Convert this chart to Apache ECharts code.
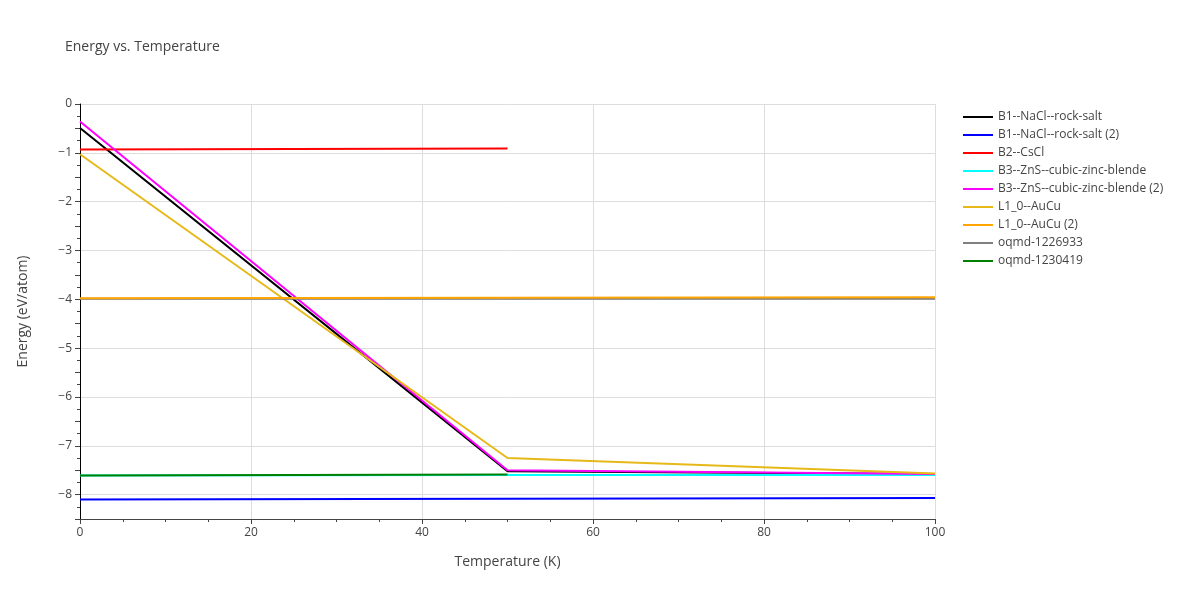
<!DOCTYPE html>
<html>
<head>
<meta charset="UTF-8">
<title>Energy vs. Temperature</title>
<style>
html, body { margin: 0; padding: 0; width: 100%; height: 100%; background: #fff; }
#chart { width: 1200px; height: 600px; }
</style>
</head>
<body>
<div id="chart"></div>
<script src="https://cdn.jsdelivr.net/npm/echarts@6/dist/echarts.min.js"></script>
<script>
var seriesNames = ['B1--NaCl--rock-salt', 'B1--NaCl--rock-salt (2)', 'B2--CsCl',
    'B3--ZnS--cubic-zinc-blende', 'B3--ZnS--cubic-zinc-blende (2)', 'L1_0--AuCu',
    'L1_0--AuCu (2)', 'oqmd-1226933', 'oqmd-1230419'];
var seriesColors = ['#000000', '#0000ff', '#ff0000', '#00ffff', '#ff00ff', '#e6b919',
    '#ffa500', '#808080', '#008000'];

var tempsB1 = [0, 50, 100];
var energyB1 = [-0.49, -7.52, -7.58];
var tempsB1b = [0, 100];
var energyB1b = [-8.1, -8.07];
var tempsB2 = [0, 50];
var energyB2 = [-0.93, -0.91];
var tempsB3 = [0, 50, 100];
var energyB3 = [-7.61, -7.6, -7.6];
var tempsB3b = [0, 50, 100];
var energyB3b = [-0.36, -7.5, -7.58];
var tempsL10 = [0, 50, 100];
var energyL10 = [-1.03, -7.25, -7.57];
var tempsL10b = [0, 100];
var energyL10b = [-3.98, -3.96];
var tempsOq1 = [0, 100];
var energyOq1 = [-3.99, -3.99];
var tempsOq2 = [0, 50];
var energyOq2 = [-7.61, -7.59];

var allTemps = [tempsB1, tempsB1b, tempsB2, tempsB3, tempsB3b, tempsL10, tempsL10b, tempsOq1, tempsOq2];
var allEnergy = [energyB1, energyB1b, energyB2, energyB3, energyB3b, energyL10, energyL10b, energyOq1, energyOq2];
// draw order: grey under orange, green over cyan
var drawOrder = [0, 1, 2, 3, 4, 5, 7, 6, 8];

var chart = echarts.init(document.getElementById('chart'));

var series = drawOrder.map(function (i, n) {
    return {
        name: seriesNames[i],
        type: 'line',
        data: allTemps[i].map(function (t, k) { return [t, allEnergy[i][k]]; }),
        symbol: 'none',
        lineStyle: { width: 2, color: seriesColors[i] },
        itemStyle: { color: seriesColors[i] },
        z: 2 + n
    };
});

var option = {
    animation: false,
    title: {
        text: 'Energy vs. Temperature',
        left: 60, top: 35,
        textStyle: { fontFamily: 'Open Sans', fontSize: 14, fontWeight: 'normal', color: '#444' }
    },
    legend: {
        orient: 'vertical',
        left: 958, top: 106,
        itemWidth: 30, itemHeight: 2, itemGap: 6,
        icon: 'rect',
        data: seriesNames,
        textStyle: { fontFamily: 'Open Sans', fontSize: 12, color: '#444' }
    },
    grid: { left: 80, right: 265, top: 104, bottom: 81 },
    xAxis: {
        type: 'value',
        min: 0, max: 100, interval: 20,
        name: 'Temperature (K)', nameLocation: 'middle', nameGap: 36,
        nameTextStyle: { fontFamily: 'Open Sans', fontSize: 14, color: '#444' },
        axisLine: { show: true, onZero: false, lineStyle: { color: '#444' } },
        axisTick: { show: true, length: 5, lineStyle: { color: '#444' } },
        minorTick: { show: true, splitNumber: 4, length: 3, lineStyle: { color: '#444' } },
        axisLabel: { fontFamily: 'Open Sans', fontSize: 12, color: '#444' },
        splitLine: { show: true, lineStyle: { color: '#ddd' } }
    },
    yAxis: {
        type: 'value',
        min: -8.5, max: 0, interval: 0.5,
        name: 'Energy (eV/atom)', nameLocation: 'middle', nameGap: 50,
        nameTextStyle: { fontFamily: 'Open Sans', fontSize: 14, color: '#444' },
        axisLine: { show: true, onZero: false, lineStyle: { color: '#000' } },
        axisTick: { show: true, length: 5, lineStyle: { color: '#444' } },
        minorTick: { show: true, splitNumber: 2, length: 3, lineStyle: { color: '#444' } },
        axisLabel: {
            fontFamily: 'Open Sans', fontSize: 12, color: '#444', showMinLabel: true, showMaxLabel: true,
            formatter: function (v) {
                if (Math.abs(v - Math.round(v)) > 1e-6) return '';
                return v < 0 ? '\u2212' + Math.abs(v) : String(v);
            }
        },
        splitLine: { show: true, lineStyle: { color: ['rgba(0,0,0,0)', '#ddd'] } }
    },
    series: series
};

chart.setOption(option);
</script>
</body>
</html>
